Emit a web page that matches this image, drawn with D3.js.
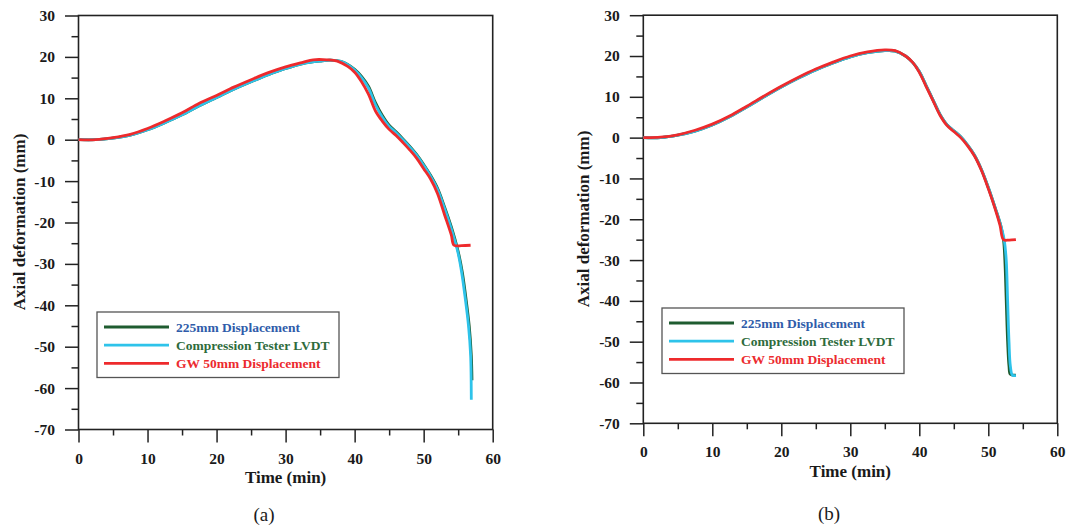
<!DOCTYPE html>
<html>
<head>
<meta charset="utf-8">
<script src="https://cdn.jsdelivr.net/npm/d3@7"></script>
<style>
  body { margin: 0; background: #fff; }
  text { font-family: "Liberation Serif", "Times New Roman", serif; }
</style>
</head>
<body>
<script>
// ---- data ----
var xTicks = [0, 10, 20, 30, 40, 50, 60];
var yTicks = [30, 20, 10, 0, -10, -20, -30, -40, -50, -60, -70];
var legendNames = ["225mm Displacement", "Compression Tester LVDT", "GW 50mm Displacement"];

// panel (a)
var aTimeRed = [0, 2.5, 5, 7.5, 10, 12.5, 15, 17.5, 20, 22.5, 25, 27.5, 30, 32.5, 34, 36, 37.5, 39, 40, 41, 42, 43, 44, 45, 46, 47, 48, 49, 50, 51, 52, 53, 54, 54.4, 55.5, 56.8];
var aRed     = [0, 0, 0.5, 1.3, 2.7, 4.5, 6.5, 8.8, 10.7, 12.7, 14.5, 16.2, 17.6, 18.7, 19.3, 19.3, 19.0, 17.7, 16.3, 14, 11, 7, 4.5, 2.5, 1, -0.7, -2.5, -4.5, -7.0, -9.5, -13, -18, -23, -25.5, -25.6, -25.5];
var aTimeCyan = [0, 2.5, 5, 7.5, 10, 12.5, 15, 17.5, 20, 22.5, 25, 27.5, 30, 32.5, 35, 36.5, 38, 39, 40, 41, 42, 43, 44, 45, 46, 47, 48, 49, 50, 51, 52, 53, 54, 55, 55.5, 56, 56.5, 56.8, 56.9];
var aCyan     = [0, 0, 0.4, 1.1, 2.4, 4.1, 6.0, 8.2, 10.2, 12.2, 14.0, 15.7, 17.2, 18.4, 19.0, 19.2, 18.9, 18.1, 16.8, 15, 12.5, 8.5, 5.5, 3.2, 1.7, 0, -1.8, -3.8, -6.2, -8.8, -12, -16.5, -21.5, -27.5, -32, -38, -45, -52, -62.8];
var aTimeGreen = [0, 2.5, 5, 7.5, 10, 12.5, 15, 17.5, 20, 22.5, 25, 27.5, 30, 32.5, 35, 36.5, 38, 39, 40, 41, 42, 43, 44, 45, 46, 47, 48, 49, 50, 51, 52, 53, 54, 55, 55.6, 56.1, 56.6, 56.9, 57.0];
var aGreen     = [0, 0, 0.4, 1.1, 2.4, 4.1, 6.0, 8.2, 10.2, 12.2, 14.0, 15.7, 17.2, 18.4, 19.0, 19.2, 18.9, 18.2, 17.0, 15.3, 12.9, 9.0, 5.9, 3.5, 1.9, 0.2, -1.6, -3.6, -6.0, -8.6, -11.7, -16.1, -21.0, -27.0, -32, -38, -45, -52, -58.1];

// panel (b)
var bTimeRed = [0, 2.5, 5, 7.5, 10, 12.5, 15, 17.5, 20, 22.5, 25, 27.5, 30, 32.5, 35, 36.5, 38, 39, 40, 41, 42, 43, 44, 45, 46, 47, 48, 49, 50, 51, 51.7, 52.2, 53, 54];
var bRed     = [0, 0.1, 0.7, 1.8, 3.3, 5.3, 7.7, 10.2, 12.6, 14.8, 16.8, 18.5, 20, 21, 21.5, 21.3, 20, 18.5, 16, 12.5, 9, 5.5, 3, 1.5, 0, -2, -4.5, -8, -12.5, -17.5, -21.5, -25, -25.1, -25];
var bTimeCyan = [0, 2.5, 5, 7.5, 10, 12.5, 15, 17.5, 20, 22.5, 25, 27.5, 30, 32.5, 35, 36.5, 38, 39, 40, 41, 42, 43, 44, 45, 46, 47, 48, 49, 50, 51, 51.8, 52.3, 52.6, 52.8, 53.0, 53.2, 53.5, 54];
var bCyan     = [0, 0, 0.6, 1.6, 3.1, 5.1, 7.5, 10.0, 12.4, 14.6, 16.6, 18.3, 19.8, 20.8, 21.3, 21.2, 20, 18.5, 16.2, 12.7, 9.2, 5.7, 3.2, 1.7, 0.2, -1.8, -4.3, -7.8, -12.2, -17.2, -21.5, -25, -30, -40, -50, -56, -58.2, -58.3];
var bTimeGreen = [0, 2.5, 5, 7.5, 10, 12.5, 15, 17.5, 20, 22.5, 25, 27.5, 30, 32.5, 35, 36.5, 38, 39, 40, 41, 42, 43, 44, 45, 46, 47, 48, 49, 50, 51, 51.8, 52.2, 52.4, 52.6, 52.8, 53.0, 53.2, 54];
var bGreen     = [0, 0, 0.6, 1.6, 3.1, 5.1, 7.5, 10.0, 12.4, 14.6, 16.6, 18.3, 19.8, 20.8, 21.3, 21.2, 20, 18.5, 16.2, 12.7, 9.2, 5.7, 3.2, 1.7, 0.2, -1.8, -4.3, -7.8, -12.2, -17.2, -21.5, -25, -30, -40, -50, -56, -58, -58.2];

var lineColors = ["#1f5c30", "#2ec3ea", "#ee2a2c"];
var textColors = ["#2f5caa", "#2e6b3c", "#ec2a2e"];

function zip(ts, vs) {
    return ts.map(function(t, i) { return { t: t, v: vs[i] }; });
}

var svg = d3.select("body").append("svg")
    .attr("width", 1066)
    .attr("height", 528);

function drawPanel(p) {
    var x = d3.scaleLinear().domain([0, 60]).range([p.left, p.right]);
    var y = d3.scaleLinear().domain([30, -70]).range([p.top, p.bottom]);
    var g = svg.append("g");

    // minor ticks
    g.append("g")
        .attr("transform", "translate(" + p.left + ",0)")
        .call(d3.axisLeft(y).tickValues(d3.range(-65, 30, 10)).tickSize(7).tickFormat(""))
        .call(function(s) { s.select(".domain").remove(); });
    g.append("g")
        .attr("transform", "translate(0," + p.bottom + ")")
        .call(d3.axisBottom(x).tickValues(d3.range(5, 60, 10)).tickSize(6).tickFormat(""))
        .call(function(s) { s.select(".domain").remove(); });

    // major ticks + labels (plain hyphen for negatives, like the original)
    var fmt = function(d) { return String(d); };
    var ya = g.append("g")
        .attr("transform", "translate(" + p.left + ",0)")
        .call(d3.axisLeft(y).tickValues(yTicks).tickSize(13.5).tickPadding(10).tickFormat(fmt));
    var xa = g.append("g")
        .attr("transform", "translate(0," + p.bottom + ")")
        .call(d3.axisBottom(x).tickValues(xTicks).tickSize(13).tickPadding(10).tickFormat(fmt));
    [ya, xa].forEach(function(a) {
        a.selectAll("text")
            .style("font-family", "Liberation Serif, serif")
            .style("font-weight", "bold")
            .style("font-size", "15.5px")
            .attr("fill", "#1a1a1a");
        a.select(".domain").remove();
    });
    g.selectAll(".tick line").attr("stroke", "#222").attr("stroke-width", 1.5);

    // frame
    g.append("rect")
        .attr("x", p.left).attr("y", p.top)
        .attr("width", p.right - p.left).attr("height", p.bottom - p.top)
        .attr("fill", "none").attr("stroke", "#222").attr("stroke-width", 1.6);

    var line = d3.line()
        .x(function(d) { return x(d.t); })
        .y(function(d) { return y(d.v); })
        .curve(d3.curveCatmullRom.alpha(0.5));

    p.series.forEach(function(s, i) {
        g.append("path")
            .datum(s)
            .attr("d", line)
            .attr("fill", "none")
            .attr("stroke", lineColors[i])
            .attr("stroke-width", 2.8)
            .attr("stroke-linejoin", "round");
    });

    // legend
    var lg = g.append("g");
    lg.append("rect")
        .attr("x", p.legX).attr("y", p.legY)
        .attr("width", 242).attr("height", 65.5)
        .attr("fill", "#fff").attr("stroke", "#555").attr("stroke-width", 1.3);
    legendNames.forEach(function(n, i) {
        var yy = p.legY + 15 + i * 18.2;
        lg.append("line")
            .attr("x1", p.legX + 7).attr("x2", p.legX + 72)
            .attr("y1", yy).attr("y2", yy)
            .attr("stroke", lineColors[i]).attr("stroke-width", 2.8);
        lg.append("text")
            .attr("x", p.legX + 79).attr("y", yy)
            .attr("dy", "0.35em")
            .style("font-weight", "bold")
            .style("font-size", "13.5px")
            .attr("fill", textColors[i])
            .text(n);
    });

    // axis titles
    g.append("text")
        .attr("x", (p.left + p.right) / 2)
        .attr("y", p.bottom + 47.5)
        .attr("text-anchor", "middle")
        .attr("dy", "0.35em")
        .style("font-weight", "bold")
        .style("font-size", "17px")
        .attr("fill", "#1a1a1a")
        .text("Time (min)");
    g.append("text")
        .attr("transform", "translate(" + p.yLabX + "," + p.yLabY + ") rotate(-90)")
        .attr("text-anchor", "middle")
        .attr("dy", "0.35em")
        .style("font-weight", "bold")
        .style("font-size", "17px")
        .attr("fill", "#1a1a1a")
        .text("Axial deformation (mm)");
    g.append("text")
        .attr("x", p.capX).attr("y", p.capY)
        .attr("text-anchor", "middle")
        .attr("dy", "0.35em")
        .style("font-size", "19px")
        .attr("fill", "#1a1a1a")
        .text(p.caption);
}

drawPanel({
    left: 78.5, right: 492.7, top: 15.5, bottom: 429.5,
    legX: 97, legY: 312, yLabX: 19, yLabY: 222, capX: 264, capY: 514, caption: "(a)",
    series: [zip(aTimeGreen, aGreen), zip(aTimeCyan, aCyan), zip(aTimeRed, aRed)]
});
drawPanel({
    left: 643.3, right: 1057.3, top: 15.2, bottom: 423.3,
    legX: 662, legY: 308, yLabX: 583, yLabY: 219, capX: 829, capY: 513, caption: "(b)",
    series: [zip(bTimeGreen, bGreen), zip(bTimeCyan, bCyan), zip(bTimeRed, bRed)]
});
</script>
</body>
</html>
